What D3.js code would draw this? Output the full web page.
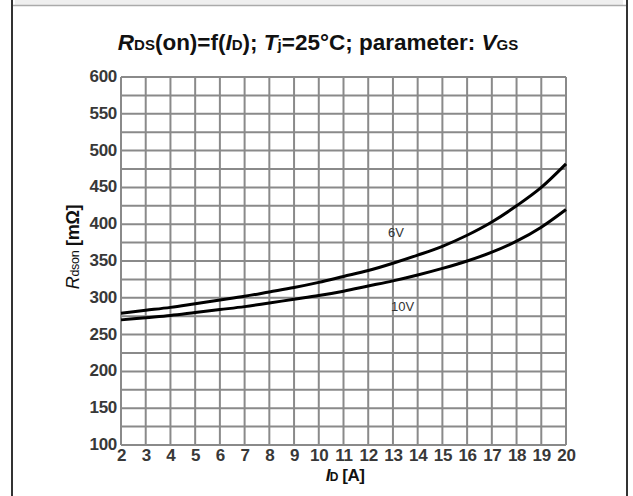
<!DOCTYPE html>
<html>
<head>
<meta charset="utf-8">
<script src="https://cdn.jsdelivr.net/npm/d3@7"></script>
<style>
  html, body { margin: 0; padding: 0; background: #fff; }
  svg { display: block; font-family: "Liberation Sans", Arial, sans-serif; }
</style>
</head>
<body>
<svg id="chart" width="633" height="496"></svg>
<script>
// Drain current (A)
const currents = [2, 3, 4, 5, 6, 7, 8, 9, 10, 11, 12, 13, 14, 15, 16, 17, 18, 19, 20];
// Rdson (mΩ) at VGS = 6 V
const rdson6V = [279, 283, 287, 292, 297, 302, 308, 314, 321, 329, 337, 347, 358, 370, 385, 403, 425, 450, 482];
// Rdson (mΩ) at VGS = 10 V
const rdson10V = [270, 273, 276, 280, 284, 288, 293, 298, 303, 309, 316, 323, 331, 340, 350, 362, 377, 396, 420];
const xTicks = d3.range(2, 21, 1);
const yTicks = d3.range(100, 601, 50);
const yGrid = d3.range(100, 601, 25);

const svg = d3.select("#chart");

// frame
svg.append("rect").attr("x", 15).attr("y", 0).attr("width", 608).attr("height", 5).attr("fill", "#efefef");
svg.append("line").attr("x1", 13).attr("x2", 626).attr("y1", 5.5).attr("y2", 5.5).attr("stroke", "#aaa").attr("stroke-width", 1.5);
svg.append("line").attr("x1", 12).attr("x2", 12).attr("y1", 0).attr("y2", 496).attr("stroke", "#333").attr("stroke-width", 2);
svg.append("line").attr("x1", 627).attr("x2", 627).attr("y1", 0).attr("y2", 496).attr("stroke", "#333").attr("stroke-width", 2);

const plotL = 121, plotR = 566, plotT = 77, plotB = 445;
const x = d3.scaleLinear().domain([2, 20]).range([plotL, plotR]);
const y = d3.scaleLinear().domain([100, 600]).range([plotB, plotT]);

// title
const title = svg.append("text").attr("x", 318).attr("y", 50).attr("text-anchor", "middle")
  .attr("font-size", 22.5).attr("font-weight", "bold").attr("fill", "#111");
const sub = 15;
title.append("tspan").attr("font-style", "italic").text("R");
title.append("tspan").attr("font-size", sub).text("DS");
title.append("tspan").text("(on)=f(");
title.append("tspan").attr("font-style", "italic").text("I");
title.append("tspan").attr("font-size", sub).text("D");
title.append("tspan").text("); ");
title.append("tspan").attr("font-style", "italic").text("T");
title.append("tspan").attr("font-size", sub).text("j");
title.append("tspan").text("=25°C; parameter: ");
title.append("tspan").attr("font-style", "italic").text("V");
title.append("tspan").attr("font-size", sub).text("GS");

// grid
const grid = svg.append("g").attr("stroke", "#8a8a8a").attr("stroke-width", 2);
grid.selectAll("line.v").data(xTicks).join("line").attr("class", "v")
  .attr("x1", d => x(d)).attr("x2", d => x(d)).attr("y1", plotT).attr("y2", plotB);
grid.selectAll("line.h").data(yGrid).join("line").attr("class", "h")
  .attr("x1", plotL).attr("x2", plotR).attr("y1", d => y(d)).attr("y2", d => y(d));

// axes
const xAxis = svg.append("g").attr("transform", `translate(0,${plotB})`)
  .call(d3.axisBottom(x).tickValues(xTicks).tickSize(0).tickFormat(d3.format("d")));
const yAxis = svg.append("g").attr("transform", `translate(${plotL},0)`)
  .call(d3.axisLeft(y).tickValues(yTicks).tickSize(0).tickPadding(4).tickFormat(d3.format("d")));
[xAxis, yAxis].forEach(a => {
  a.select(".domain").remove();
  a.selectAll("text").attr("font-family", "Liberation Sans, Arial, sans-serif")
    .attr("font-size", 17).attr("font-weight", "bold").attr("fill", "#383838")
    .attr("letter-spacing", -0.3);
});
xAxis.selectAll("text").attr("y", 15.5).attr("dy", 0);
yAxis.selectAll("text").attr("x", -4).attr("y", -1.5).attr("dy", "0.35em");

// curves
const line = d3.line().x((d, i) => x(currents[i])).y(d => y(d)).curve(d3.curveMonotoneX);
[rdson6V, rdson10V].forEach(s => {
  svg.append("path").datum(s).attr("d", line).attr("fill", "none")
    .attr("stroke", "#000").attr("stroke-width", 3);
});

// curve labels
svg.append("text").attr("x", 388).attr("y", 237).attr("font-size", 13).attr("fill", "#333").text("6V");
svg.append("text").attr("x", 391).attr("y", 311).attr("font-size", 13).attr("fill", "#333").text("10V");

// axis titles
const xl = svg.append("text").attr("x", 345).attr("y", 481).attr("text-anchor", "middle")
  .attr("font-size", 17).attr("font-weight", "bold").attr("fill", "#111").attr("letter-spacing", -0.5);
xl.append("tspan").attr("font-style", "italic").text("I");
xl.append("tspan").attr("font-size", 12).text("D");
xl.append("tspan").text(" [A]");

const yl = svg.append("text").attr("transform", "translate(79,247) rotate(-90)").attr("text-anchor", "middle")
  .attr("font-size", 18).attr("font-weight", "bold").attr("fill", "#111").attr("letter-spacing", -0.3);
yl.append("tspan").attr("font-style", "italic").attr("font-weight", "normal").text("R");
yl.append("tspan").attr("font-size", 12.5).attr("font-weight", "normal").text("dson");
yl.append("tspan").text(" [mΩ]");
</script>
</body>
</html>
